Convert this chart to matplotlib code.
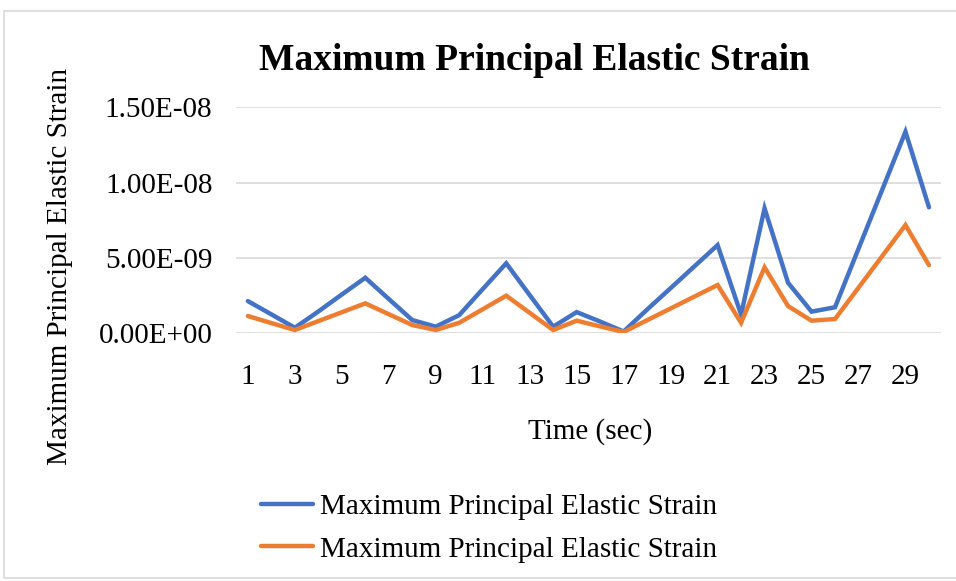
import numpy as np
import matplotlib
matplotlib.use("Agg")
from matplotlib import pyplot as plt
from matplotlib.patches import Rectangle

plt.rcParams['font.family'] = ['Liberation Serif', 'DejaVu Serif']

# time steps (sec)
time = list(range(1, 31))

# strain values
strain_blue = [2.14e-9, 1.26e-9, 0.37e-9, 1.45e-9, 2.58e-9, 3.69e-9, 2.28e-9, 0.88e-9, 0.44e-9, 1.21e-9,
               2.94e-9, 4.65e-9, 2.54e-9, 0.44e-9, 1.41e-9, 0.78e-9, 0.12e-9, 1.58e-9, 3.00e-9, 4.43e-9,
               5.86e-9, 1.25e-9, 8.30e-9, 3.36e-9, 1.44e-9, 1.73e-9, 5.62e-9, 9.50e-9, 13.39e-9, 8.37e-9]
strain_orange = [1.15e-9, 0.68e-9, 0.22e-9, 0.81e-9, 1.40e-9, 1.99e-9, 1.27e-9, 0.55e-9, 0.22e-9, 0.70e-9,
                 1.60e-9, 2.50e-9, 1.36e-9, 0.22e-9, 0.84e-9, 0.46e-9, 0.09e-9, 0.87e-9, 1.65e-9, 2.43e-9,
                 3.21e-9, 0.70e-9, 4.38e-9, 1.81e-9, 0.84e-9, 0.95e-9, 3.03e-9, 5.11e-9, 7.19e-9, 4.53e-9]

series_label = "Maximum Principal Elastic Strain"
yticks = [0, 5e-9, 1e-8, 1.5e-8]
ytick_labels = ["0.00E+00", "5.00E-09", "1.00E-08", "1.50E-08"]

fs = 21

fig = plt.figure(figsize=(9.56, 5.81), dpi=100)
ax = fig.add_axes([0.247, 0.4263, 0.737, 0.3887])

# chart border
fig.patches.append(Rectangle((4 / 956, 3 / 581), 1.2, 567 / 581, transform=fig.transFigure,
                             fill=False, edgecolor='#D9D9D9', linewidth=1.2))

l1, = ax.plot(time, strain_blue, color='#4472C4', lw=3.2, solid_capstyle='round', solid_joinstyle='miter')
l2, = ax.plot(time, strain_orange, color='#ED7D31', lw=3.2, solid_capstyle='round', solid_joinstyle='miter')

ax.set_xlim(0.5, 30.5)
ax.set_ylim(0, 1.5e-8)
ax.set_yticks(yticks)
ax.set_yticklabels(ytick_labels)
ax.set_xticks(time[::2])
ax.set_xticklabels([str(t) for t in time[::2]])
ax.tick_params(length=0, labelsize=fs, colors='black')
ax.tick_params(axis='y', pad=17)
ax.tick_params(axis='x', pad=22)
ax.grid(axis='y', color='#D9D9D9', lw=1.2)
ax.set_axisbelow(True)
for s in ax.spines.values():
    s.set_visible(False)

fig.text(0.559, 1 - 60 / 581, series_label, ha='center', va='center', fontsize=27, fontweight='bold')
fig.text(590 / 956, 1 - 432 / 581, "Time (sec)", ha='center', va='center', fontsize=fs)
fig.text(60 / 956, 1 - 266 / 581, series_label, ha='center', va='center', rotation=90, fontsize=fs)

fig.legend([l1, l2], [series_label, series_label], loc='upper left', bbox_to_anchor=(249 / 956, 1 - 482 / 581),
           frameon=False, fontsize=fs, handlelength=1.8, handletextpad=0.25, labelspacing=0.55, borderaxespad=0)

fig.savefig("out.png", dpi=100)
